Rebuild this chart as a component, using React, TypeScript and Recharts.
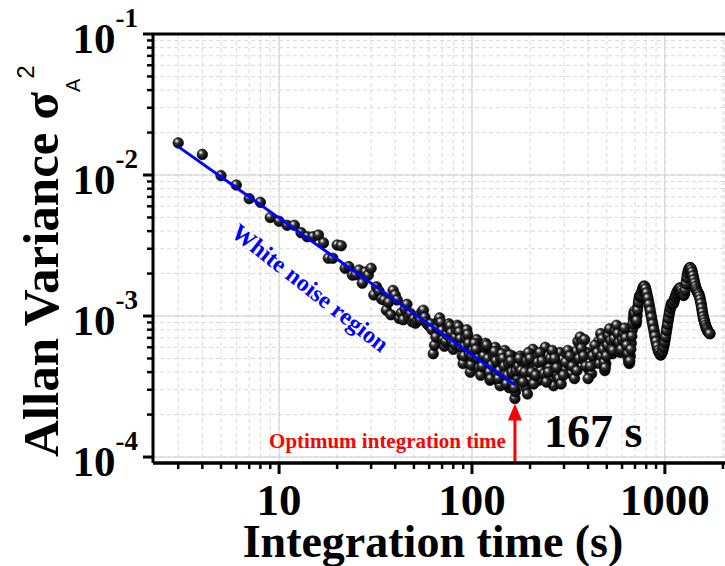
import React from 'react';
import { ScatterChart, Scatter, XAxis, YAxis, CartesianGrid, ReferenceLine, ReferenceDot } from 'recharts';

const serif = "'Liberation Serif', 'Times New Roman', serif";
const sans = "'Liberation Sans', Arial, sans-serif";

// integration time (s) / Allan variance
const tauEarly = [3, 4, 5, 6, 7, 8, 9, 10, 11, 12, 13, 14, 15, 16, 17, 18, 19, 20,
    21, 22, 23, 24, 25, 26, 27, 28, 29, 30, 31, 32, 33, 34, 35, 36, 37, 38, 39, 40,
    41, 42, 43, 44, 45, 46, 47, 48, 49, 50, 51, 52, 53, 54, 55, 56, 57, 58, 59, 60];
const avarEarly = [0.0169, 0.0140, 0.0099, 0.0085, 0.0068, 0.0064, 0.0050, 0.0047, 0.0044, 0.0044,
    0.0039, 0.00365, 0.00365, 0.00375, 0.0033, 0.00257, 0.00257, 0.00319,
    0.00315, 0.00218, 0.00224, 0.00195, 0.00196, 0.00212, 0.00171, 0.00205, 0.00195, 0.00218,
    0.00141, 0.00161, 0.00150, 0.00132, 0.00130, 0.00110, 0.00125, 0.00102, 0.00152, 0.00141,
    0.00130, 0.00096, 0.00105, 0.00094, 0.00112, 0.00121, 0.00099, 0.00104, 0.00091, 0.00095,
    0.00089, 0.00093, 0.00100, 0.00094, 0.00107, 0.00110, 0.00098, 0.00090, 0.00087, 0.00085];

const tauMid = [61, 62, 63, 64, 65, 66, 67, 68, 69, 70, 71, 72, 73, 74, 75, 76, 77, 78, 79, 80,
    81, 82, 83, 84, 85, 86, 87, 88, 89, 90, 91, 92, 93, 94, 95, 96, 97, 98, 99, 100,
    102, 104, 106, 108, 110, 112, 114, 116, 118, 120, 122, 124, 126, 128, 130, 132, 134, 136,
    138, 140, 142, 144, 146, 148, 150, 152, 154, 156, 158, 160, 162, 164, 165, 167, 168, 170];
const avarMid = [0.00088, 0.00080, 0.00054, 0.00062, 0.00071, 0.00083, 0.00092, 0.00097, 0.00090, 0.00079,
    0.00068, 0.00061, 0.00066, 0.00074, 0.00083, 0.00088, 0.00085, 0.00076, 0.00066, 0.00058,
    0.00063, 0.00071, 0.00080, 0.00086, 0.00084, 0.00077, 0.00069, 0.00060, 0.00052, 0.00046,
    0.00052, 0.00061, 0.00070, 0.00080, 0.00074, 0.00064, 0.00054, 0.00040, 0.00045, 0.00052,
    0.00061, 0.00066, 0.00068, 0.00058, 0.00049, 0.00041, 0.00046, 0.00056, 0.00064, 0.00055,
    0.00044, 0.00035, 0.00040, 0.00049, 0.00058, 0.00060, 0.00051, 0.00042, 0.00034, 0.00032,
    0.00039, 0.00047, 0.00055, 0.00057, 0.00049, 0.00041, 0.00034, 0.00031, 0.00036, 0.00044,
    0.00052, 0.00043, 0.00034, 0.00026, 0.00029, 0.00036];
const tauMidFill = [101, 103, 105, 107, 109, 111, 113, 115, 117, 119, 121, 123, 125, 127, 129, 131, 133,
    135, 137, 139, 141, 143, 145, 147, 149, 151, 153, 155, 157, 159, 161, 163, 166, 169];
const avarMidFill = [0.00057, 0.00064, 0.00058, 0.00050, 0.00043, 0.00038, 0.00044, 0.00052, 0.00060,
    0.00062, 0.00050, 0.00040, 0.00036, 0.00045, 0.00053, 0.00056, 0.00048, 0.00039, 0.00036, 0.00041,
    0.00050, 0.00054, 0.00050, 0.00044, 0.00038, 0.00033, 0.00038, 0.00046, 0.00053, 0.00048, 0.00040,
    0.00033, 0.00031, 0.00041];

const tauLate = [174, 178, 182, 186, 190, 194, 198, 202, 207, 212, 217, 222, 228, 234, 240, 246, 252, 258,
    265, 272, 279, 286, 294, 302, 310, 318, 327, 336, 345, 354, 364, 374, 384, 395, 406, 417, 428, 440,
    452, 465, 476, 482, 488, 494, 500, 507, 514, 521, 528, 535, 542, 550, 558, 566, 574, 582, 590, 598,
    606, 614, 622, 630, 638, 646, 654, 662, 670, 678, 686, 694, 702, 710, 718, 726, 734, 742, 750, 758,
    766, 774, 782, 790, 798, 810, 822, 834, 846, 858, 870, 882, 894, 906, 918, 930, 942, 954, 966, 978,
    990, 1002, 1014, 1026, 1038, 1050, 1062, 1075, 1088, 1101, 1114, 1127, 1140, 1154, 1168, 1182, 1196,
    1210, 1224, 1238, 1252, 1266, 1280, 1294, 1308, 1322, 1336, 1350, 1364, 1378, 1392, 1406, 1420, 1434,
    1448, 1462, 1476, 1490, 1504, 1518, 1532, 1546, 1560, 1574, 1588, 1602, 1616, 1630, 1644, 1658, 1672,
    1686, 1700, 1714];
const avarLate = [0.00044, 0.00052, 0.00047, 0.00038, 0.00031, 0.00028, 0.00035, 0.00046, 0.00058, 0.00051,
    0.00042, 0.00035, 0.00041, 0.00052, 0.00060, 0.00052, 0.00043, 0.00036, 0.00032, 0.00039, 0.00048,
    0.00055, 0.00049, 0.00042, 0.00054, 0.00046, 0.00039, 0.00044, 0.00056, 0.00066, 0.00071, 0.00066,
    0.00068, 0.00055, 0.00041, 0.00039, 0.00046, 0.00057, 0.00066, 0.00075, 0.00062, 0.00050, 0.00041,
    0.00046, 0.00057, 0.00068, 0.00078, 0.00072, 0.00062, 0.00054, 0.00063, 0.00074, 0.00083, 0.00079,
    0.00070, 0.00061, 0.00055, 0.00063, 0.00072, 0.00079, 0.00074, 0.00066, 0.00058, 0.00050, 0.00046,
    0.00052, 0.00064, 0.00080, 0.00096, 0.00108, 0.00098, 0.00088, 0.00101, 0.00118, 0.00131, 0.00140,
    0.00134, 0.00146, 0.00154, 0.00160, 0.00163, 0.00160, 0.00152, 0.00140, 0.00128, 0.00115, 0.00103,
    0.00093, 0.00084, 0.00076, 0.00069, 0.00064, 0.00059, 0.00056, 0.00054, 0.00053, 0.00055, 0.00058,
    0.00062, 0.00068, 0.00075, 0.00083, 0.00092, 0.00101, 0.00110, 0.00118, 0.00124, 0.00121, 0.00126,
    0.00134, 0.00140, 0.00146, 0.00151, 0.00155, 0.00158, 0.00155, 0.00149, 0.00143, 0.00140, 0.00146,
    0.00160, 0.00178, 0.00195, 0.00208, 0.00216, 0.00220, 0.00218, 0.00210, 0.00199, 0.00187, 0.00176,
    0.00166, 0.00158, 0.00152, 0.00148, 0.00145, 0.00141, 0.00135, 0.00127, 0.00119, 0.00110, 0.00102,
    0.00096, 0.00092, 0.00088, 0.00085, 0.00082, 0.00080, 0.00078, 0.00077, 0.00076, 0.00075];

const tauLateFill = [176, 180, 184, 188, 192, 196, 200, 204, 209, 214, 219, 225, 231, 237, 243, 249, 255,
    261, 268, 275, 282, 290, 298, 306, 314, 322, 331, 340, 350, 359, 369, 379, 389, 400, 411, 422, 434,
    446, 458, 470];
const avarLateFill = [0.00050, 0.00041, 0.00034, 0.00040, 0.00048, 0.00055, 0.00050, 0.00040, 0.00033,
    0.00038, 0.00047, 0.00055, 0.00048, 0.00039, 0.00034, 0.00040, 0.00050, 0.00057, 0.00050, 0.00043,
    0.00036, 0.00033, 0.00038, 0.00047, 0.00057, 0.00052, 0.00044, 0.00036, 0.00041, 0.00050, 0.00059,
    0.00052, 0.00044, 0.00036, 0.00044, 0.00052, 0.00062, 0.00055, 0.00046, 0.00052];

const tauTailFill = [473, 479, 485, 491, 497, 503, 510, 517, 524, 531, 538, 546, 554, 562, 570, 578, 586,
    594, 602, 610, 618, 626, 634, 642, 650, 658, 666, 674, 682, 690, 698, 706, 714, 722, 730, 738, 746,
    754, 762, 770, 778, 786, 794, 804, 816, 828, 840, 852, 864, 876, 888, 900, 912, 924, 936, 948, 960,
    972, 984, 996, 1008, 1020, 1032, 1044, 1056, 1068, 1081, 1094, 1107, 1120, 1134, 1147, 1161, 1175,
    1189, 1203, 1217, 1231, 1245, 1259, 1273, 1287, 1301, 1315, 1329, 1343, 1357, 1371, 1385, 1399, 1413,
    1427, 1441, 1455, 1469, 1483, 1497, 1511, 1525, 1539, 1553, 1567, 1581, 1595, 1609, 1623, 1637, 1651,
    1665, 1679, 1693, 1707];
const avarTailFill = [0.00069, 0.00058, 0.00047, 0.00043, 0.00052, 0.00062, 0.00073, 0.00081, 0.00067,
    0.00058, 0.00057, 0.00069, 0.00079, 0.00086, 0.00075, 0.00065, 0.00057, 0.00058, 0.00068, 0.00076,
    0.00082, 0.00070, 0.00062, 0.00054, 0.00047, 0.00048, 0.00058, 0.00072, 0.00088, 0.00103, 0.00104,
    0.00092, 0.00093, 0.00110, 0.00125, 0.00137, 0.00137, 0.00140, 0.00150, 0.00157, 0.00162, 0.00162,
    0.00156, 0.00146, 0.00134, 0.00121, 0.00109, 0.00098, 0.00088, 0.00080, 0.00072, 0.00066, 0.00061,
    0.00057, 0.00055, 0.00053, 0.00054, 0.00056, 0.00060, 0.00065, 0.00071, 0.00079, 0.00087, 0.00096,
    0.00105, 0.00114, 0.00121, 0.00123, 0.00123, 0.00130, 0.00137, 0.00143, 0.00149, 0.00153, 0.00157,
    0.00157, 0.00152, 0.00146, 0.00141, 0.00142, 0.00152, 0.00169, 0.00187, 0.00202, 0.00212, 0.00219,
    0.00220, 0.00214, 0.00205, 0.00193, 0.00181, 0.00171, 0.00162, 0.00155, 0.00150, 0.00146, 0.00143,
    0.00138, 0.00131, 0.00123, 0.00114, 0.00106, 0.00099, 0.00094, 0.00090, 0.00086, 0.00083, 0.00081,
    0.00079, 0.00077, 0.00076, 0.00075];

// linear fit in the white noise region
const fitTau = [3, 167];
const fitAvar = [0.0159, 0.000324];

const optimumTau = 167;
const arrowTip = 0.00024;
const arrowBase = 0.000187;

const xTicks = [3, 4, 5, 6, 7, 8, 9, 10, 20, 30, 40, 50, 60, 70, 80, 90, 100,
    200, 300, 400, 500, 600, 700, 800, 900, 1000, 2000];
const xMajor = [10, 100, 1000];
const yTicks = [0.0001, 0.0002, 0.0003, 0.0004, 0.0005, 0.0006, 0.0007, 0.0008, 0.0009,
    0.001, 0.002, 0.003, 0.004, 0.005, 0.006, 0.007, 0.008, 0.009,
    0.01, 0.02, 0.03, 0.04, 0.05, 0.06, 0.07, 0.08, 0.09, 0.1];
const yMajor = [0.0001, 0.001, 0.01, 0.1];

const pairs = (tau: number[], avar: number[]) => tau.map((t, i) => ({ t, v: avar[i] }));
const points = [
    ...pairs(tauEarly, avarEarly),
    ...pairs(tauMid, avarMid),
    ...pairs(tauMidFill, avarMidFill),
    ...pairs(tauLate, avarLate),
    ...pairs(tauLateFill, avarLateFill),
    ...pairs(tauTailFill, avarTailFill),
];
const fitData = pairs(fitTau, fitAvar);

const Ball = (props: any) => {
    const { cx, cy } = props;
    if (cx == null || cy == null) return <g />;
    return <circle cx={cx} cy={cy} r={5.3} fill="url(#ball)" stroke="#000" strokeWidth={0.6} />;
};

const NoShape = () => <g />;

const XTick = (props: any) => {
    const { x, y, payload } = props;
    const major = xMajor.includes(payload.value);
    return (
        <g>
            <line x1={x} x2={x} y1={y} y2={y + (major ? 11 : 6)} stroke="#000" strokeWidth={major ? 3 : 2.5} />
            {major && (
                <text x={x} y={y + 52} textAnchor="middle" fontFamily={serif} fontWeight="bold" fontSize={45} fill="#000">
                    {payload.value}
                </text>
            )}
        </g>
    );
};

const YTick = (props: any) => {
    const { x, y, payload } = props;
    const major = yMajor.includes(payload.value);
    const exp = Math.round(Math.log10(payload.value));
    return (
        <g>
            <line x1={x - (major ? 10 : 6)} x2={x} y1={y} y2={y} stroke="#000" strokeWidth={major ? 3 : 2.5} />
            {major && (
                <text x={x - 15} y={y + 19} textAnchor="end" fontFamily={serif} fontWeight="bold" fill="#000">
                    <tspan fontSize={43}>10</tspan>
                    <tspan fontSize={27} dy={-26}>{exp}</tspan>
                </text>
            )}
        </g>
    );
};

const YTitle = () => (
    <text transform="translate(58,457) rotate(-90)" fill="#000">
        <tspan fontFamily={serif} fontWeight="bold" fontSize={51}>Allan Variance σ</tspan>
        <tspan fontFamily={sans} fontSize={20} dy={22}>A</tspan>
        <tspan fontFamily={sans} fontSize={24} dy={-46}>2</tspan>
    </text>
);

const XTitle = () => (
    <text x={433} y={557} textAnchor="middle" fontFamily={serif} fontWeight="bold" fontSize={46} fill="#000">
        Integration time (s)
    </text>
);

const ArrowHead = (props: any) => {
    const { cx, cy } = props;
    return (
        <g>
            <polygon points={`${cx},${cy} ${cx - 7},${cy + 17} ${cx + 7},${cy + 17}`} fill="#ff0000" />
            <text x={cx - 9} y={cy + 45} textAnchor="end" fontFamily={serif} fontWeight="bold" fontSize={21} fill="#ff0000">
                Optimum integration time
            </text>
            <text x={cx + 29} y={cy + 44} fontFamily={serif} fontWeight="bold" fontSize={46} fill="#000">
                167 s
            </text>
        </g>
    );
};

const NoiseLabel = (props: any) => {
    const { cx, cy } = props;
    return (
        <text x={cx} y={cy} transform={`rotate(38 ${cx} ${cy})`} textAnchor="middle" dominantBaseline="central"
            fontFamily={serif} fontWeight="bold" fontSize={24} fill="#0000ff">
            White noise region
        </text>
    );
};

export default function App() {
    return (
        <div style={{ position: 'absolute', left: 0, top: 0, width: 725, height: 566, background: '#fff', overflow: 'hidden' }}>
            <svg width={0} height={0} style={{ position: 'absolute' }}>
                <defs>
                    <radialGradient id="ball" cx="40%" cy="38%" r="62%" fx="34%" fy="30%">
                        <stop offset="0%" stopColor="#ffffff" />
                        <stop offset="14%" stopColor="#b0b0b0" />
                        <stop offset="40%" stopColor="#303030" />
                        <stop offset="100%" stopColor="#000000" />
                    </radialGradient>
                </defs>
            </svg>
            <ScatterChart width={725} height={566} margin={{ top: 34, right: 0, bottom: 0, left: 0 }}>
                <CartesianGrid stroke="#d9d9d9" strokeDasharray="4 3" />
                {xMajor.map((t) => (
                    <ReferenceLine key={`gx${t}`} x={t} stroke="#d0d0d0" strokeWidth={1} />
                ))}
                {yMajor.map((v) => (
                    <ReferenceLine key={`gy${v}`} y={v} stroke="#d0d0d0" strokeWidth={1} />
                ))}
                <XAxis dataKey="t" type="number" scale="log" domain={[2.22, 2050]} allowDataOverflow
                    ticks={xTicks} tick={<XTick />} tickLine={false} tickSize={0} tickMargin={0}
                    axisLine={{ stroke: '#000', strokeWidth: 3.5 }} height={103} interval={0}
                    label={<XTitle />} />
                <YAxis dataKey="v" type="number" scale="log" domain={[0.0000907, 0.1]} allowDataOverflow
                    ticks={yTicks} tick={<YTick />} tickLine={false} tickSize={0} tickMargin={0}
                    axisLine={{ stroke: '#000', strokeWidth: 3 }} width={153} interval={0}
                    label={<YTitle />} />
                <ReferenceLine y={0.1} stroke="#000" strokeWidth={3} ifOverflow="visible" />
                <Scatter data={points} shape={<Ball />} isAnimationActive={false} />
                <Scatter data={fitData} shape={<NoShape />} line={{ stroke: '#0000ff', strokeWidth: 3 }}
                    isAnimationActive={false} />
                <ReferenceLine segment={[{ x: optimumTau, y: 0.0000907 }, { x: optimumTau, y: arrowBase }]}
                    stroke="#ff0000" strokeWidth={3} ifOverflow="visible" />
                <ReferenceDot x={optimumTau} y={arrowTip} shape={<ArrowHead />} ifOverflow="visible" />
                <ReferenceDot x={14.5} y={0.00158} shape={<NoiseLabel />} ifOverflow="visible" />
            </ScatterChart>
        </div>
    );
}
